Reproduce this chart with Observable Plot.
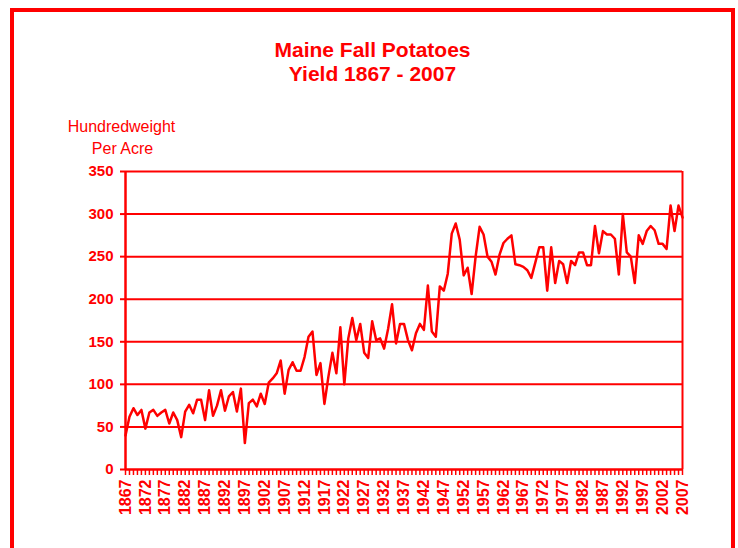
<!DOCTYPE html>
<html>
<head>
<meta charset="utf-8">
<script src="https://cdn.jsdelivr.net/npm/d3@7"></script>
<script src="https://cdn.jsdelivr.net/npm/@observablehq/plot@0.6"></script>
<style>
  html, body { margin: 0; padding: 0; background: #fff; }
  #wrap { position: relative; width: 738px; height: 548px; overflow: hidden; }
  #frame { position: absolute; left: 10px; top: 8px; width: 717px; height: 600px; border: 4px solid #ff0000; pointer-events: none; }
  #wrap svg { position: absolute; left: 0; top: 0; }
</style>
</head>
<body>
<div id="wrap"><div id="frame"></div></div>
<script>
const titleLines = ["Maine Fall Potatoes", "Yield 1867 - 2007"];
const yLabelLines = ["Hundredweight", "Per Acre"];
const startYear = 1867;
const yieldValues = [
  40, 62, 72, 64, 70, 48, 67, 70, 63, 67,
  70, 54, 67, 58, 38, 68, 76, 66, 82, 82,
  58, 93, 63, 75, 93, 69, 86, 91, 68, 95,
  31, 78, 82, 74, 89, 77, 102, 107, 113, 128,
  89, 117, 126, 116, 116, 132, 156, 162, 111, 125,
  77, 109, 137, 113, 167, 100, 154, 178, 152, 171,
  137, 131, 174, 152, 154, 142, 165, 194, 148, 171,
  171, 152, 140, 160, 171, 164, 216, 162, 156, 215,
  210, 230, 277, 289, 270, 228, 237, 206, 250, 285,
  276, 250, 244, 229, 252, 266, 271, 275, 241, 240,
  238, 234, 225, 243, 261, 261, 210, 261, 219, 245,
  241, 219, 245, 240, 255, 255, 240, 240, 286, 254,
  280, 276, 276, 271, 229, 300, 255, 250, 219, 275,
  265, 280, 286, 281, 265, 265, 259, 310, 280, 310,
  296
];
const xTickLabels = [1867, 1872, 1877, 1882, 1887, 1892, 1897, 1902, 1907, 1912, 1917, 1922, 1927, 1932, 1937, 1942, 1947, 1952, 1957, 1962, 1967, 1972, 1977, 1982, 1987, 1992, 1997, 2002, 2007];
const yTicks = [0, 50, 100, 150, 200, 250, 300, 350];

const years = yieldValues.map((_, i) => startYear + i);
const data = years.map((year, i) => ({year, value: yieldValues[i]}));
const RED = "#ff0000";
const firstYear = years[0], lastYear = years[years.length - 1];

const chart = Plot.plot({
  width: 738,
  height: 548,
  marginLeft: 125,
  marginRight: 56,
  marginTop: 171,
  marginBottom: 79,
  x: {domain: [firstYear, lastYear]},
  y: {domain: [0, 350]},
  style: {fontFamily: "'Liberation Sans', Arial, sans-serif", color: RED, background: "transparent", overflow: "visible"},
  marks: [
    Plot.ruleY(yTicks.filter(d => d > 0), {stroke: RED, strokeWidth: 2}),
    Plot.ruleX([lastYear], {stroke: RED, strokeWidth: 2}),
    Plot.axisY({ticks: yTicks, tickSize: 5, tickPadding: 7, fontSize: 15, fontWeight: "bold", label: null, strokeWidth: 2}),
    Plot.axisX({ticks: years, tickSize: 6, tickFormat: () => "", label: null, strokeWidth: 1.5}),
    Plot.axisX({ticks: xTickLabels, tickSize: 0, tickPadding: 10, tickRotate: -90, tickFormat: d => String(d), fontSize: 16, fontWeight: "bold", label: null}),
    Plot.ruleX([firstYear], {stroke: RED, strokeWidth: 2.5}),
    Plot.ruleY([0], {stroke: RED, strokeWidth: 2.5}),
    Plot.line(data, {x: "year", y: "value", stroke: RED, strokeWidth: 2.5}),
    Plot.text([titleLines[0]], {text: d => d, frameAnchor: "top-left", lineAnchor: "bottom", textAnchor: "middle", dx: 247, dy: -115, fontSize: 21, fontWeight: "bold", fill: RED}),
    Plot.text([titleLines[1]], {text: d => d, frameAnchor: "top-left", lineAnchor: "bottom", textAnchor: "middle", dx: 247, dy: -91, fontSize: 21, fontWeight: "bold", fill: RED}),
    Plot.text([yLabelLines[0]], {text: d => d, frameAnchor: "top-left", lineAnchor: "bottom", textAnchor: "middle", dx: -4, dy: -40, fontSize: 16, fill: RED}),
    Plot.text([yLabelLines[1]], {text: d => d, frameAnchor: "top-left", lineAnchor: "bottom", textAnchor: "middle", dx: -3, dy: -18, fontSize: 16, fill: RED})
  ]
});
document.getElementById("wrap").appendChild(chart);
</script>
</body>
</html>
